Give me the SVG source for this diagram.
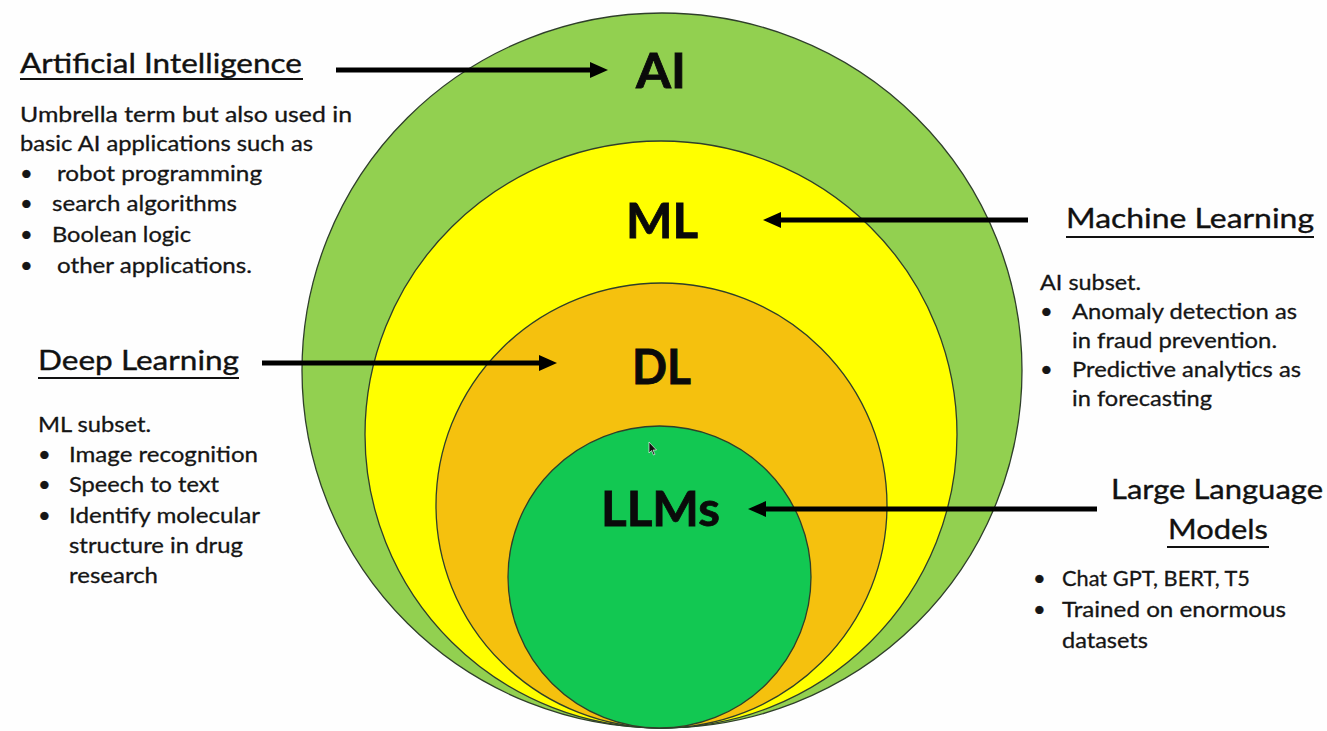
<svg xmlns="http://www.w3.org/2000/svg" width="1327" height="731" viewBox="0 0 1327 731">
  <style>
    .ring { stroke: #2f3f2a; stroke-width: 1.3; }
    .big { font-family: Lato, "Open Sans", "Liberation Sans", sans-serif; font-weight: 700; font-size: 48px; fill: #0a0a0a; stroke: #0a0a0a; stroke-width: 0.8; }
    .head { font-family: Lato, "Open Sans", "Liberation Sans", sans-serif; font-size: 27px; fill: #111; stroke: #111; stroke-width: 0.35; }
    .body { font-family: Lato, "Open Sans", "Liberation Sans", sans-serif; font-size: 22px; fill: #151515; stroke: #151515; stroke-width: 0.3; }
    .uline { stroke: #111; stroke-width: 2; }
    .conn { stroke: #000; stroke-width: 5; fill: none; marker-end: url(#head); }
  </style>
  <defs>
    <marker id="head" markerUnits="userSpaceOnUse" markerWidth="19" markerHeight="17" refX="8" refY="8" orient="auto">
      <path d="M0,0 L18,8 L0,16 Z" fill="#000"/>
    </marker>
  </defs>

  <rect width="1327" height="731" fill="#fefefe"/>

  <!-- nested sets, all touching at the bottom -->
  <g id="node-ai">
    <ellipse class="ring" cx="662" cy="370.5" rx="360" ry="357.5" fill="#92d050"/>
    <text class="big" x="636" y="88" textLength="50" lengthAdjust="spacingAndGlyphs">AI</text>
  </g>
  <g id="node-ml">
    <ellipse class="ring" cx="661" cy="434.5" rx="296" ry="293.5" fill="#ffff00"/>
    <text class="big" x="626" y="238" textLength="72" lengthAdjust="spacingAndGlyphs">ML</text>
  </g>
  <g id="node-dl">
    <ellipse class="ring" cx="661.5" cy="505.5" rx="225.5" ry="222.5" fill="#f5c10e"/>
    <text class="big" x="632" y="384" textLength="59" lengthAdjust="spacingAndGlyphs">DL</text>
  </g>
  <g id="node-llm">
    <ellipse class="ring" cx="659.5" cy="577" rx="151.5" ry="151" fill="#12c852"/>
    <text class="big" x="601" y="526" textLength="119" lengthAdjust="spacingAndGlyphs">LLMs</text>
  </g>

  <!-- pointer -->
  <path d="M649,442 L649,453 L651.5,450.5 L653.5,455 L655,454.3 L653,450 L656.5,450 Z" fill="#111" stroke="#fff" stroke-width="0.6"/>

  <!-- description blocks -->
  <g id="note-ai">
    <text class="head" x="20" y="73" textLength="282" lengthAdjust="spacingAndGlyphs">Artificial Intelligence</text>
    <line class="uline" x1="20" y1="79" x2="303" y2="79"/>
    <text class="body" x="20" y="122" textLength="332" lengthAdjust="spacingAndGlyphs">Umbrella term but also used in</text>
    <text class="body" x="20" y="151" textLength="293" lengthAdjust="spacingAndGlyphs">basic AI applications such as</text>
    <text class="body" x="20" y="181">•</text>
    <text class="body" x="57" y="181" textLength="205" lengthAdjust="spacingAndGlyphs">robot programming</text>
    <text class="body" x="20" y="211">•</text>
    <text class="body" x="52" y="211" textLength="185" lengthAdjust="spacingAndGlyphs">search algorithms</text>
    <text class="body" x="20" y="242">•</text>
    <text class="body" x="52" y="242" textLength="139" lengthAdjust="spacingAndGlyphs">Boolean logic</text>
    <text class="body" x="20" y="273">•</text>
    <text class="body" x="57" y="273" textLength="195" lengthAdjust="spacingAndGlyphs">other applications.</text>
  </g>

  <g id="note-ml">
    <text class="head" x="1066" y="228" textLength="248" lengthAdjust="spacingAndGlyphs">Machine Learning</text>
    <line class="uline" x1="1066" y1="237" x2="1314" y2="237"/>
    <text class="body" x="1040" y="290" textLength="101" lengthAdjust="spacingAndGlyphs">AI subset.</text>
    <text class="body" x="1040" y="319">•</text>
    <text class="body" x="1072" y="319" textLength="225" lengthAdjust="spacingAndGlyphs">Anomaly detection as</text>
    <text class="body" x="1072" y="348" textLength="205" lengthAdjust="spacingAndGlyphs">in fraud prevention.</text>
    <text class="body" x="1040" y="377">•</text>
    <text class="body" x="1072" y="377" textLength="229" lengthAdjust="spacingAndGlyphs">Predictive analytics as</text>
    <text class="body" x="1072" y="406" textLength="140" lengthAdjust="spacingAndGlyphs">in forecasting</text>
  </g>

  <g id="note-dl">
    <text class="head" x="38" y="370" textLength="201" lengthAdjust="spacingAndGlyphs">Deep Learning</text>
    <line class="uline" x1="38" y1="378" x2="239" y2="378"/>
    <text class="body" x="38" y="432" textLength="113" lengthAdjust="spacingAndGlyphs">ML subset.</text>
    <text class="body" x="38" y="462">•</text>
    <text class="body" x="69" y="462" textLength="189" lengthAdjust="spacingAndGlyphs">Image recognition</text>
    <text class="body" x="38" y="492">•</text>
    <text class="body" x="69" y="492" textLength="150" lengthAdjust="spacingAndGlyphs">Speech to text</text>
    <text class="body" x="38" y="523">•</text>
    <text class="body" x="69" y="523" textLength="191" lengthAdjust="spacingAndGlyphs">Identify molecular</text>
    <text class="body" x="69" y="553" textLength="174" lengthAdjust="spacingAndGlyphs">structure in drug</text>
    <text class="body" x="69" y="583" textLength="89" lengthAdjust="spacingAndGlyphs">research</text>
  </g>

  <g id="note-llm">
    <text class="head" x="1111" y="499" textLength="212" lengthAdjust="spacingAndGlyphs">Large Language</text>
    <text class="head" x="1168" y="539" textLength="100" lengthAdjust="spacingAndGlyphs">Models</text>
    <line class="uline" x1="1167" y1="547" x2="1269" y2="547"/>
    <text class="body" x="1033" y="586">•</text>
    <text class="body" x="1062" y="586" textLength="188" lengthAdjust="spacingAndGlyphs">Chat GPT, BERT, T5</text>
    <text class="body" x="1033" y="617">•</text>
    <text class="body" x="1062" y="617" textLength="224" lengthAdjust="spacingAndGlyphs">Trained on enormous</text>
    <text class="body" x="1062" y="648" textLength="86" lengthAdjust="spacingAndGlyphs">datasets</text>
  </g>

  <!-- arrows from each heading to its set -->
  <g id="connectors">
    <line class="conn" x1="336" y1="70" x2="598" y2="70"/>
    <line class="conn" x1="1028" y1="220" x2="773" y2="220"/>
    <line class="conn" x1="262" y1="363" x2="547" y2="363"/>
    <line class="conn" x1="1097" y1="509" x2="758" y2="509"/>
  </g>
</svg>
